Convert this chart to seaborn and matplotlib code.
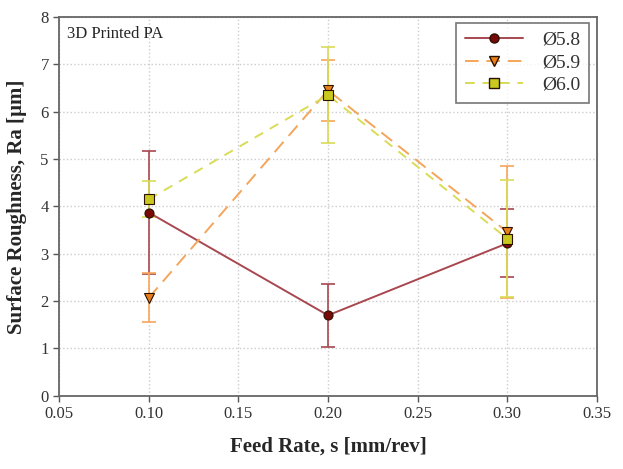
import matplotlib
matplotlib.use("Agg")
import matplotlib.pyplot as plt
from matplotlib.lines import Line2D
import seaborn as sns
import pandas as pd

feed = [0.10, 0.20, 0.30]
series = ["Ø5.8", "Ø5.9", "Ø6.0"]
ra_58 = [3.87, 1.70, 3.22]
ra_59 = [2.07, 6.45, 3.46]
ra_60 = [4.15, 6.35, 3.32]
err_58 = [1.30, 0.67, 0.72]
err_59 = [0.52, 0.65, 1.40]
err_60 = [0.38, 1.02, 1.24]

df = pd.DataFrame({
    "feed": feed * 3,
    "ra": ra_58 + ra_59 + ra_60,
    "err": err_58 + err_59 + err_60,
    "d": [s for s in series for _ in feed],
})

sns.set_style("white")
plt.rcParams["font.family"] = ["Liberation Serif", "DejaVu Serif"]

line_cols = {"Ø5.8": "#a8474f", "Ø5.9": "#f5a55a", "Ø6.0": "#d9dc55"}
face_cols = {"Ø5.8": "#7a0a0a", "Ø5.9": "#e8801a", "Ø6.0": "#c8c81e"}
markers = {"Ø5.8": "o", "Ø5.9": "v", "Ø6.0": "s"}
dashes = {"Ø5.8": "", "Ø5.9": (7, 4), "Ø6.0": (5, 4)}

fig = plt.figure(figsize=(6.23, 4.69), dpi=100)
ax = fig.add_axes([0.095, 0.156, 0.863, 0.808])

for s in series:
    sub = df[df["d"] == s]
    ax.errorbar(sub["feed"], sub["ra"], yerr=sub["err"], fmt="none",
                ecolor=line_cols[s], elinewidth=1.2, capsize=5, capthick=1.2, zorder=2)

sns.lineplot(data=df, x="feed", y="ra", hue="d", style="d",
             palette=line_cols, markers=markers, dashes=dashes,
             linewidth=1.4, markersize=6.5, ax=ax, zorder=3, legend=False)

# darker marker faces with a black-ish rim
for line, s in zip(ax.lines[-3:], series):
    line.set_markerfacecolor(face_cols[s])
    line.set_markeredgecolor("#2a1000")
    line.set_markeredgewidth(0.8)

handles = [Line2D([], [], color=line_cols[s], marker=markers[s], markersize=6.5,
                  markerfacecolor=face_cols[s], markeredgecolor="#2a1000",
                  linestyle="-" if s == "Ø5.8" else (0, dashes[s]), linewidth=1.4)
           for s in series]
leg = ax.legend(handles, series, loc="upper right", fontsize=14, frameon=True,
                fancybox=False, edgecolor="#555555", handlelength=3.0,
                borderpad=0.45, labelspacing=0.25, handletextpad=1.0,
                borderaxespad=0.25, bbox_to_anchor=(0.995, 0.998))
leg.get_frame().set_linewidth(1.2)
for t in leg.get_texts():
    t.set_color("#333333")

ax.set_xlim(0.05, 0.35)
ax.set_ylim(0, 8)
ax.set_xticks([0.05, 0.10, 0.15, 0.20, 0.25, 0.30, 0.35])
ax.set_xticklabels([f"{v:.2f}" for v in ax.get_xticks()])
ax.set_yticks(range(0, 9))
ax.tick_params(axis="both", labelsize=12, labelcolor="#333333", direction="out",
               length=4, width=1, color="#555555", bottom=True, left=True)
ax.grid(True, color="#cccccc", linestyle=":", linewidth=1)
for sp in ax.spines.values():
    sp.set_color("#666666")
    sp.set_linewidth(1.3)

ax.set_xlabel("Feed Rate, s [mm/rev]", fontsize=15, fontweight="bold", labelpad=10)
ax.set_ylabel("Surface Roughness, Ra [µm]", fontsize=15, fontweight="bold", labelpad=10)
ax.text(0.015, 0.975, "3D Printed PA", transform=ax.transAxes, fontsize=12,
        va="top", ha="left")

fig.savefig("out.png", dpi=100)
